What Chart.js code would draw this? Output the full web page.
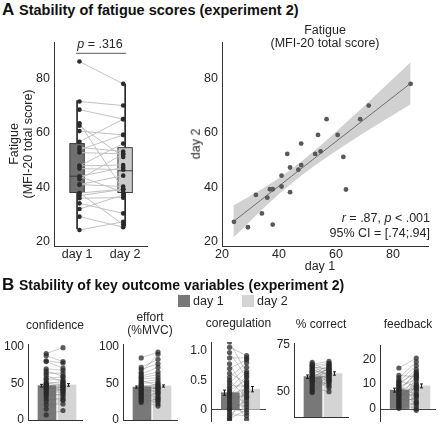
<!DOCTYPE html>
<html>
<head>
<meta charset="utf-8">
<title>Stability of fatigue scores and key outcome variables</title>
<script src="https://cdn.jsdelivr.net/npm/chart.js@4.4.1/dist/chart.umd.min.js"></script>
<style>
  html, body { margin: 0; padding: 0; background: #fff; overflow: hidden; }
  #fig { position: relative; width: 440px; height: 427px; overflow: hidden;
         font-family: "Liberation Sans", Arial, Helvetica, sans-serif; color: #262626; }
  #fig canvas { position: absolute; }
  .txt { position: absolute; white-space: nowrap; line-height: 1; }
  .key { position: absolute; width: 12px; height: 12px; }
</style>
</head>
<body>
<div id="fig"></div>
<script>
// ---- A: fatigue (MFI-20 total score), one value per participant ----
const dayLabels = ["day 1", "day 2"];
const fatigueDay1 = [86.2, 71.5, 68.5, 56.7, 60.6, 53.7, 47.8, 42.9, 52.7, 54.6, 62.6, 47.8, 43.9,
                     46.8, 40.9, 40.9, 36.8, 37.8, 43.9, 31.9, 35.9, 63.5, 34.0, 24.2, 37.8, 29.1];
const fatigueDay2 = [78.0, 70.0, 65.0, 65.0, 59.2, 59.2, 56.0, 52.2, 52.2, 53.1, 51.1, 48.1, 47.2,
                     46.4, 44.2, 40.2, 39.2, 39.2, 38.1, 37.1, 36.1, 39.1, 30.3, 27.2, 26.2, 25.2];
// box stats: [lower whisker, q1, median, q3, upper whisker]
const boxDay1 = [24.5, 38, 44, 56, 72];
const boxDay2 = [25.5, 38, 46, 54.5, 78];
const fatigueTicks = [20, 40, 60, 80];
const sigLevel = 89.2;
// regression line and its 95% band
const fitX = [24, 86.2];
const fitY = [27.3, 78.2];
const bandX = [24, 35, 45, 55, 65, 75, 86.2];
const bandLow = [21.4, 32.7, 41.9, 49.7, 56.7, 63.3, 70.5];
const bandHigh = [33.2, 39.9, 47.1, 55.7, 65.1, 74.9, 85.9];

// ---- B: key outcome variables, one value per participant ----
const confidenceDay1 = [91, 88, 81, 80, 70, 67, 64, 61, 57, 55, 52, 50, 49, 47, 46, 44, 43, 41, 39, 37, 35, 32, 29, 26, 21, 15, 7, 48];
const confidenceDay2 = [99, 80, 78, 71, 68, 60, 64, 52, 59, 55, 50, 47, 53, 45, 49, 44, 41, 46, 38, 42, 34, 36, 27, 31, 22, 28, 13, 40];
const confidenceMean = [47, 48];
const confidenceSem = [1.8, 1.8];
const confidenceTicks = [0, 50, 100];

const effortDay1 = [85, 72, 69, 65, 63, 60, 58, 56, 54, 52, 50, 48, 47, 45, 44, 42, 41, 40, 38, 36, 35, 33, 31, 30, 28, 26, 24, 46];
const effortDay2 = [93, 83, 77, 90, 72, 66, 62, 58, 47, 55, 52, 44, 42, 48, 50, 38, 40, 35, 45, 32, 30, 27, 37, 22, 25, 19, 29, 43];
const effortMean = [45, 46.5];
const effortSem = [1.5, 1.5];
const effortTicks = [0, 50, 100];

const coregDay1 = [1.15, 1.06, 0.97, 0.88, 0.78, 0.7, 0.62, 0.55, 0.5, 0.46, 0.41, 0.37, 0.33, 0.3,
                   0.27, 0.23, 0.19, 0.15, 0.11, 0.07, 0.03, 0.0, -0.04, -0.08, -0.12, -0.15, -0.18, 0.25];
const coregDay2 = [0.62, 0.92, 0.55, 0.88, 0.3, 0.85, 0.45, 0.8, 0.2, 0.72, 0.4, 0.65, 0.5, 0.1,
                   0.35, 0.58, 0.25, 0.47, 0.05, 0.3, -0.05, 0.15, 0.42, -0.1, 0.22, 0.0, 0.38, -0.16];
const coregMean = [0.29, 0.35];
const coregSem = [0.045, 0.045];
const coregTicks = [0, 0.5, 1.0];
const coregTickLabels = ["0", "0.5", "1.0"];

const correctDay1 = [65.5, 64.5, 64, 63.5, 63, 62.5, 62, 61.5, 61, 60.5, 60, 59.5, 59, 58.5,
                     58, 57.5, 57, 56.5, 56, 55.5, 55, 54, 53, 52, 51, 50, 49.5, 58];
const correctDay2 = [60, 66, 58, 65, 62, 56, 64.5, 59, 63, 55, 61.5, 57, 64, 53,
                     60.5, 62.5, 52, 58.5, 61, 54, 59.5, 63.5, 57.5, 50, 56.5, 55.5, 60, 62];
const correctMean = [57.9, 59.6];
const correctSem = [0.9, 0.9];
const correctTicks = [50, 75];

const feedbackDay1 = [16.5, 13.5, 12.5, 11.5, 11, 10.5, 10, 9.5, 9, 8.5, 8, 7.5, 7, 6.5,
                      6, 5.5, 5, 4.5, 4, 3.5, 3, 2.5, 2, 1.5, 1, 0.6, 0.3, 8];
const feedbackDay2 = [20.5, 13, 19, 9, 17.5, 14.5, 3, 16, 12, 6, 14, 2, 11, 15,
                      5.5, 8.5, 1, 10, 13.5, 4, 7, 0, 12.5, 5, 9.5, 2.5, -0.5, 8];
const feedbackMean = [7.6, 9.3];
const feedbackSem = [0.8, 0.8];
const feedbackTicks = [0, 10, 20];

// ---- styling ----
const FONT = '"Liberation Sans", Arial, Helvetica, sans-serif';
const INK = "#262626";
const DAY1 = "#787878";
const DAY2 = "#d4d4d4";
const fig = document.getElementById("fig");

function addText(html, x, base, size, align = "left", extra = {}) {
  const d = document.createElement("div");
  d.className = "txt";
  d.innerHTML = html;
  d.style.fontSize = size + "px";
  d.style.top = (base - 0.847 * size) + "px";
  if (align === "right") d.style.right = (440 - x) + "px";
  else d.style.left = x + "px";
  if (align === "center") d.style.transform = "translateX(-50%)";
  Object.assign(d.style, extra);
  fig.appendChild(d);
}

function addVText(html, cx, cy, size) {
  const d = document.createElement("div");
  d.className = "txt";
  d.innerHTML = html;
  d.style.fontSize = size + "px";
  d.style.left = cx + "px";
  d.style.top = cy + "px";
  d.style.transform = "translate(-50%, -50%) rotate(-90deg)";
  fig.appendChild(d);
}

function axis(min, max, ticks, labels, showLabels, border, fontSize, grid, padding = 4) {
  return {
    type: "linear", min, max, bounds: "data", offset: false,
    afterBuildTicks: s => { s.ticks = ticks.map(v => ({ value: v })); },
    ticks: {
      display: showLabels, autoSkip: false, maxRotation: 0, padding, color: INK,
      font: { family: FONT, size: fontSize },
      callback: (v, i) => labels ? labels[i] : String(v)
    },
    grid: grid || { display: false, drawTicks: false },
    border: { display: border, color: "#333", width: 1 }
  };
}

function makeChart(area, pad, xAxis, yAxis, datasets, plugins = []) {
  const c = document.createElement("canvas");
  const w = area.r - area.l + pad.l + pad.r;
  const h = area.b - area.t + pad.t + pad.b;
  c.width = w; c.height = h;
  Object.assign(c.style, { left: (area.l - pad.l) + "px", top: (area.t - pad.t) + "px", width: w + "px", height: h + "px" });
  fig.appendChild(c);
  xAxis.afterFit = s => { s.height = pad.b; };
  yAxis.afterFit = s => { s.width = pad.l; };
  return new Chart(c, {
    type: "scatter",
    data: { datasets },
    options: {
      responsive: false, animation: false, devicePixelRatio: 1, events: [],
      layout: { padding: { left: 0, right: pad.r, top: pad.t, bottom: 0 } },
      plugins: { legend: { display: false }, tooltip: { enabled: false } },
      scales: { x: xAxis, y: yAxis }
    },
    plugins
  });
}

function pairLines(d1, d2, xs, color, width) {
  return d1.map((v, i) => ({
    type: "line", order: 1,
    data: [{ x: xs[0], y: v }, { x: xs[1], y: d2[i] }],
    borderColor: color, borderWidth: width, pointRadius: 0
  }));
}

function dots(values, xPos, color, r) {
  return {
    type: "scatter", order: 0,
    data: values.map(v => ({ x: xPos, y: v })),
    backgroundColor: color, borderWidth: 0, pointRadius: r
  };
}

// ---------------- panel A: boxplot ----------------
const boxPos = [1, 2];
const boxDotPos = [1.05, 1.96];
const boxStats = [boxDay1, boxDay2];
const boxFill = ["#707070", "#cbcbcb"];

const boxPlugin = {
  id: "boxes",
  beforeDatasetsDraw(chart) {
    const { ctx, scales: { x, y } } = chart;
    ctx.save();
    boxStats.forEach((b, i) => {
      const cx = x.getPixelForValue(boxPos[i]);
      const half = x.getPixelForValue(boxPos[i] + 0.15) - cx;
      ctx.strokeStyle = "#111"; ctx.lineWidth = 1.5;
      ctx.beginPath();
      ctx.moveTo(cx, y.getPixelForValue(b[0]));
      ctx.lineTo(cx, y.getPixelForValue(b[4]));
      ctx.stroke();
      const top = y.getPixelForValue(b[3]), bot = y.getPixelForValue(b[1]);
      ctx.fillStyle = boxFill[i];
      ctx.fillRect(cx - half, top, half * 2, bot - top);
      ctx.strokeStyle = "#3c3c3c"; ctx.lineWidth = 1;
      ctx.strokeRect(cx - half, top, half * 2, bot - top);
      const med = y.getPixelForValue(b[2]);
      ctx.beginPath(); ctx.moveTo(cx - half, med); ctx.lineTo(cx + half, med); ctx.stroke();
    });
    ctx.restore();
  },
  afterDatasetsDraw(chart) {
    const { ctx, scales: { x, y } } = chart;
    const yy = y.getPixelForValue(sigLevel);
    ctx.save();
    ctx.strokeStyle = "#7a7a7a"; ctx.lineWidth = 1.2;
    ctx.beginPath();
    ctx.moveTo(x.getPixelForValue(boxPos[0]) - 1, yy);
    ctx.lineTo(x.getPixelForValue(boxPos[1]) + 1, yy);
    ctx.stroke();
    ctx.restore();
  }
};

makeChart(
  { l: 54, t: 42, r: 147, b: 246 }, { l: 54, t: 12, r: 10, b: 22 },
  axis(0.52, 2.455, boxPos, dayLabels, true, true, 12.5, null, 1),
  axis(18.3, 93.4, fatigueTicks, null, true, true, 12.5),
  [
    dots(fatigueDay1, boxDotPos[0], "#2b2b2b", 2.3),
    dots(fatigueDay2, boxDotPos[1], "#2b2b2b", 2.3),
    ...pairLines(fatigueDay1, fatigueDay2, boxDotPos, "#c2c2c2", 1)
  ],
  [boxPlugin]
);

// ---------------- panel A: scatter ----------------
makeChart(
  { l: 222, t: 42, r: 428, b: 246 }, { l: 22, t: 12, r: 10, b: 22 },
  axis(20, 92.3, fatigueTicks, null, true, true, 12.5, null, 1),
  axis(18.3, 93.4, fatigueTicks, null, true, true, 12.5),
  [
    { type: "scatter", order: 0, data: fatigueDay1.map((v, i) => ({ x: v, y: fatigueDay2[i] })),
      backgroundColor: "#595959", borderWidth: 0, pointRadius: 2.4 },
    { type: "line", order: 1, data: fitX.map((v, i) => ({ x: v, y: fitY[i] })),
      borderColor: "#6e6e6e", borderWidth: 1, pointRadius: 0 },
    { type: "line", order: 2, data: bandX.map((v, i) => ({ x: v, y: bandHigh[i] })),
      borderWidth: 0, pointRadius: 0, cubicInterpolationMode: "monotone",
      fill: "+1", backgroundColor: "rgba(0,0,0,0.18)" },
    { type: "line", order: 3, data: bandX.map((v, i) => ({ x: v, y: bandLow[i] })),
      borderWidth: 0, pointRadius: 0, cubicInterpolationMode: "monotone", fill: false }
  ]
);

// ---------------- panel B: bar + paired dots ----------------
const barPos = [1, 2];
const barDotPos = [0.96, 1.8];
const errPos = [0.71, 2.04];

const panels = [
  { name: ["confidence"], base: [329], area: { l: 28, t: 344, r: 82, b: 420 }, y: [0, 104],
    ticks: confidenceTicks, labels: null, d1: confidenceDay1, d2: confidenceDay2,
    mean: confidenceMean, sem: confidenceSem, zeroLine: false },
  { name: ["effort", "(%MVC)"], base: [321.5, 334.5], area: { l: 123, t: 344, r: 177, b: 420 }, y: [0, 104],
    ticks: effortTicks, labels: null, d1: effortDay1, d2: effortDay2,
    mean: effortMean, sem: effortSem, zeroLine: false },
  { name: ["coregulation"], base: [327], area: { l: 211, t: 342, r: 266, b: 421 }, y: [-0.19, 1.15],
    ticks: coregTicks, labels: coregTickLabels, d1: coregDay1, d2: coregDay2,
    mean: coregMean, sem: coregSem, zeroLine: true },
  { name: ["% correct"], base: [328], area: { l: 294, t: 343, r: 348, b: 417 }, y: [36.6, 75.7],
    ticks: correctTicks, labels: null, d1: correctDay1, d2: correctDay2,
    mean: correctMean, sem: correctSem, zeroLine: false },
  { name: ["feedback"], base: [328], area: { l: 380, t: 345, r: 436, b: 421 }, y: [-4.8, 25.75],
    ticks: feedbackTicks, labels: null, d1: feedbackDay1, d2: feedbackDay2,
    mean: feedbackMean, sem: feedbackSem, zeroLine: true }
];

panels.forEach(p => {
  const errPlugin = {
    id: "errbars",
    afterDatasetsDraw(chart) {
      const { ctx, scales: { x, y } } = chart;
      ctx.save();
      ctx.strokeStyle = "#1e1e1e"; ctx.lineWidth = 1;
      p.mean.forEach((m, i) => {
        const px = Math.round(x.getPixelForValue(errPos[i])) + 0.5;
        const y1 = y.getPixelForValue(m + p.sem[i]), y2 = y.getPixelForValue(m - p.sem[i]);
        ctx.beginPath();
        ctx.moveTo(px, y1); ctx.lineTo(px, y2);
        ctx.moveTo(px - 1.5, y1); ctx.lineTo(px + 1.5, y1);
        ctx.moveTo(px - 1.5, y2); ctx.lineTo(px + 1.5, y2);
        ctx.stroke();
      });
      ctx.restore();
    }
  };
  const zeroGrid = p.zeroLine
    ? { display: true, drawTicks: false, lineWidth: 1,
        color: c => (c.tick && c.tick.value === 0 ? "#444" : "rgba(0,0,0,0)") }
    : null;
  const unit = (p.area.r - p.area.l) / 2.7;
  makeChart(
    p.area, { l: 28, t: 14, r: 4, b: 14 },
    axis(0.05, 2.75, barPos, null, false, !p.zeroLine, 12),
    axis(p.y[0], p.y[1], p.ticks, p.labels, true, true, 12, zeroGrid),
    [
      dots(p.d1, barDotPos[0], "rgba(40,40,40,0.75)", 2.6),
      dots(p.d2, barDotPos[1], "rgba(40,40,40,0.75)", 2.6),
      ...pairLines(p.d1, p.d2, barDotPos, "rgba(110,110,110,0.45)", 0.8),
      { type: "bar", order: 2, data: p.mean.map((m, i) => ({ x: barPos[i], y: m })),
        backgroundColor: [DAY1, DAY2], borderWidth: 0, barThickness: Math.round(0.9 * unit) }
    ],
    [errPlugin]
  );
  const cx = (p.area.l + p.area.r) / 2;
  p.name.forEach((t, i) => addText(t, cx, p.base[i], 12, "center"));
});

// ---------------- text ----------------
addText("A", 2, 15, 17, "left", { fontWeight: "bold", color: "#111" });
addText("Stability of fatigue scores (experiment 2)", 19, 15, 14.5, "left", { fontWeight: "bold", color: "#111" });
addText("<i>p</i> = .316", 100, 48.5, 12.5, "center");
addVText("Fatigue", 13.5, 144, 12.5);
addVText("(MFI-20 total score)", 27.5, 144, 12.5);

addText("Fatigue", 325, 35, 12.5, "center");
addText("(MFI-20 total score)", 325, 47.5, 12.5, "center");
addVText("day 2", 195.5, 144, 12.5);
addText("day 1", 320, 271, 12.5, "center");
addText("<i>r</i> = .87, <i>p</i> &lt; .001", 430, 223, 12.5, "right");
addText("95% CI = [.74;.94]", 430, 238, 12.5, "right");

addText("B", 2, 290, 17, "left", { fontWeight: "bold", color: "#111" });
addText("Stability of key outcome variables (experiment 2)", 19, 290, 14, "left", { fontWeight: "bold", color: "#111" });

[[178, DAY1, "day 1"], [242, DAY2, "day 2"]].forEach(([x, col, label]) => {
  const k = document.createElement("div");
  k.className = "key";
  Object.assign(k.style, { left: x + "px", top: "295px", background: col });
  fig.appendChild(k);
  addText(label, x + 15, 306, 12.5);
});
</script>
</body>
</html>
